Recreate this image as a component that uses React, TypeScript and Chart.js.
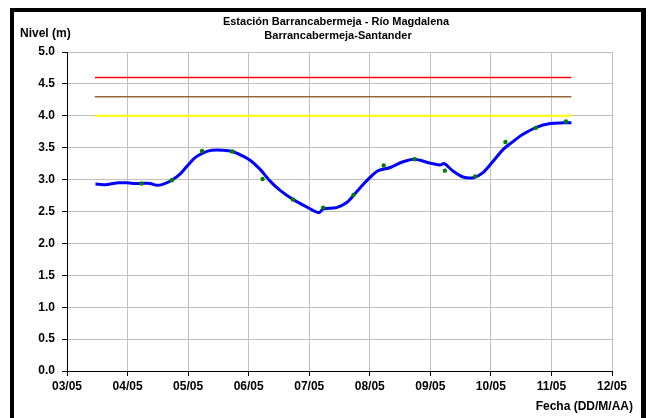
import React, { useEffect, useRef } from "react";
import { Chart, registerables } from "chart.js";

Chart.register(...registerables);

const TITLE = ["Estación Barrancabermeja - Río Magdalena", "Barrancabermeja-Santander"];
const Y_LABEL = "Nivel (m)";
const X_LABEL = "Fecha (DD/M/AA)";
const MONTH = "05";

// Continuous level record (day of May, metres)
const levelDays = [
  3.47, 3.6, 3.71, 3.85, 3.98, 4.09, 4.23, 4.37, 4.49, 4.59, 4.73, 4.87, 5.0, 5.11, 5.25, 5.39,
  5.58, 5.73, 5.88, 6.03, 6.19, 6.35, 6.52, 6.73, 6.96, 7.16, 7.23, 7.45, 7.62, 7.73, 7.84, 8.0,
  8.14, 8.34, 8.55, 8.74, 8.99, 9.16, 9.23, 9.38, 9.54, 9.71, 9.87, 10.04, 10.2, 10.37, 10.51,
  10.75, 10.98, 11.2, 11.33,
];
const levelValues = [
  2.93, 2.92, 2.93, 2.95, 2.95, 2.94, 2.94, 2.94, 2.91, 2.93, 2.99, 3.09, 3.23, 3.34, 3.42, 3.46,
  3.46, 3.44, 3.38, 3.3, 3.16, 2.98, 2.83, 2.69, 2.57, 2.48, 2.54, 2.56, 2.64, 2.75, 2.87, 3.03,
  3.14, 3.19, 3.28, 3.32, 3.26, 3.23, 3.25, 3.13, 3.04, 3.03, 3.11, 3.29, 3.47, 3.6, 3.7,
  3.82, 3.88, 3.89, 3.89,
];

// Observed readings
const obsDays = [4.23, 4.73, 5.23, 5.73, 6.23, 6.73, 7.23, 7.73, 8.23, 8.74, 9.24, 9.74, 10.24, 10.74, 11.24];
const obsValues = [2.94, 2.99, 3.45, 3.44, 3.01, 2.69, 2.56, 2.76, 3.22, 3.32, 3.14, 3.05, 3.59, 3.81, 3.91];

// Alert thresholds
const thresholdDays = [3.46, 11.33];
const thresholdRed = 4.6;
const thresholdOrange = 4.3;
const thresholdYellow = 4.0;

const FONT = '"Liberation Sans", Arial, sans-serif';

const textPlugin = {
  id: "texts",
  afterDraw(chart: any) {
    const ctx = chart.ctx;
    ctx.save();
    ctx.fillStyle = "#000";
    ctx.textBaseline = "middle";
    ctx.textAlign = "center";
    ctx.font = `bold 11px ${FONT}`;
    ctx.fillText(TITLE[0], 336, 22);
    ctx.fillText(TITLE[1], 338, 36);
    ctx.font = `bold 12px ${FONT}`;
    ctx.textAlign = "left";
    ctx.fillText(Y_LABEL, 20, 34);
    ctx.textAlign = "right";
    ctx.fillText(X_LABEL, 633, 407);
    ctx.restore();
  },
};

function pts(xs: number[], ys: number[]) {
  return xs.map((x, i) => ({ x, y: ys[i] }));
}

export default function App() {
  const ref = useRef<HTMLCanvasElement | null>(null);

  useEffect(() => {
    if (!ref.current) return;
    const thr = (v: number) => thresholdDays.map((x) => ({ x, y: v }));
    const chart = new Chart(ref.current, {
      type: "line",
      data: {
        datasets: [
          {
            data: pts(obsDays, obsValues),
            showLine: false,
            pointRadius: 2.2,
            pointBackgroundColor: "#008000",
            pointBorderColor: "#008000",
            pointBorderWidth: 0,
            order: 0,
          },
          {
            data: pts(levelDays, levelValues),
            borderColor: "#0000ff",
            borderWidth: 3,
            pointRadius: 0,
            tension: 0.3,
            order: 1,
          },
          { data: thr(thresholdRed), borderColor: "#ff0000", borderWidth: 1.5, pointRadius: 0, order: 2 },
          { data: thr(thresholdOrange), borderColor: "#996633", borderWidth: 1.5, pointRadius: 0, order: 2 },
          { data: thr(thresholdYellow), borderColor: "#ffff00", borderWidth: 2, pointRadius: 0, order: 2 },
        ],
      },
      options: {
        responsive: false,
        animation: false,
        devicePixelRatio: 1,
        layout: { padding: { left: 0, right: 44, top: 52, bottom: 0 } },
        plugins: { legend: { display: false }, title: { display: false }, tooltip: { enabled: false } },
        scales: {
          x: {
            type: "linear",
            min: 3,
            max: 12,
            afterFit: (s: any) => {
              s.height = 47;
            },
            ticks: {
              stepSize: 1,
              autoSkip: false,
              maxRotation: 0,
              padding: 3,
              color: "#000",
              font: { family: FONT, size: 12, weight: "bold" },
              callback: (v: any) => String(v).padStart(2, "0") + "/" + MONTH,
            },
            grid: { color: "#c0c0c0", lineWidth: 1, tickColor: "#000", tickLength: 5 },
            border: { color: "#000", width: 1 },
          },
          y: {
            min: 0,
            max: 5,
            afterFit: (s: any) => {
              s.width = 67;
            },
            ticks: {
              stepSize: 0.5,
              padding: 7,
              color: "#000",
              font: { family: FONT, size: 12, weight: "bold" },
              callback: (v: any) => Number(v).toFixed(1),
            },
            grid: { color: "#c0c0c0", lineWidth: 1, tickColor: "#000", tickLength: 5 },
            border: { color: "#000", width: 1 },
          },
        },
      },
      plugins: [textPlugin],
    });
    return () => chart.destroy();
  }, []);

  return (
    <div
      style={{
        position: "fixed",
        left: 0,
        top: 0,
        width: 656,
        height: 418,
        background: "#fff",
        overflow: "hidden",
      }}
    >
      <div
        style={{
          position: "absolute",
          left: 10,
          top: 8,
          width: 627,
          height: 500,
          borderLeft: "4px solid #000",
          borderTop: "4px solid #000",
          borderRight: "5px solid #000",
        }}
      />
      <canvas
        ref={ref}
        width={656}
        height={418}
        style={{ position: "absolute", left: 0, top: 0, width: 656, height: 418 }}
      />
    </div>
  );
}
